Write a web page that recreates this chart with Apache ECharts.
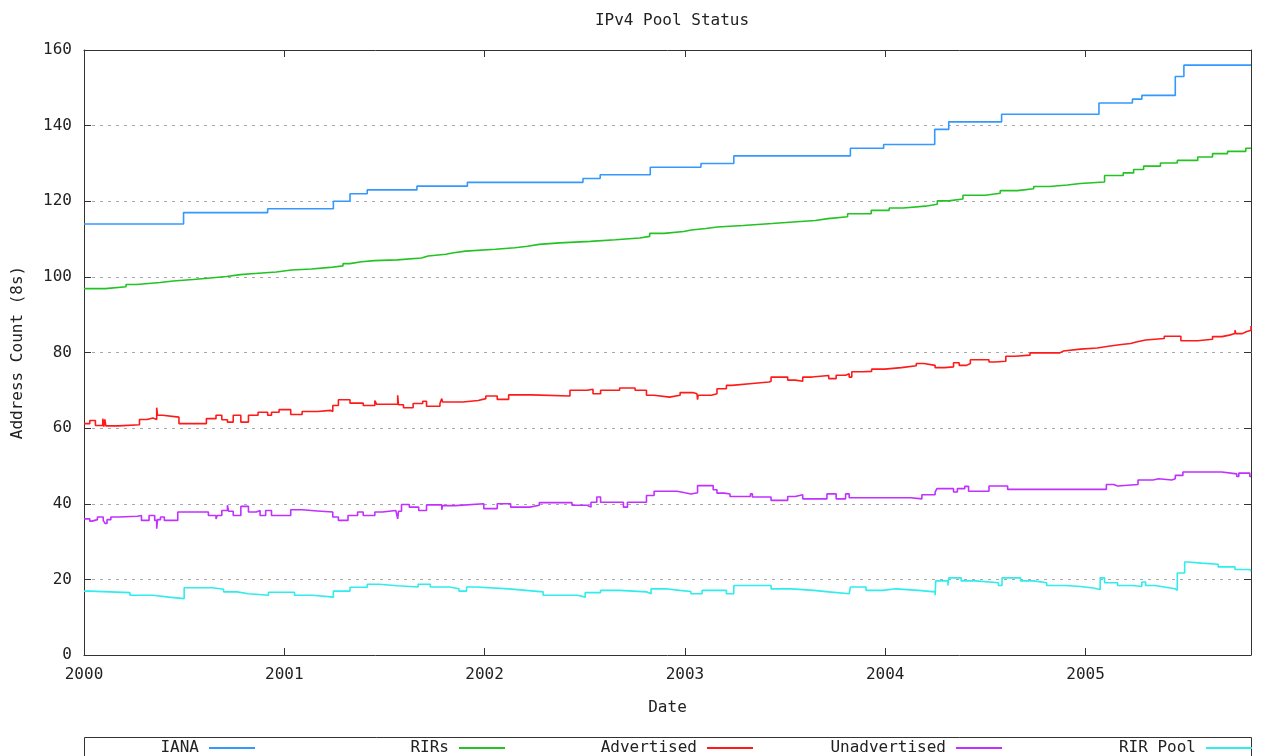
<!DOCTYPE html>
<html>
<head>
<meta charset="utf-8">
<script src="https://cdn.jsdelivr.net/npm/echarts@6/dist/echarts.min.js"></script>
<style>
html,body{margin:0;padding:0;background:#fff;}
#chart{width:1264px;height:756px;}
</style>
</head>
<body>
<div id="chart"></div>
<script>
// ---- data (decimal year, address count in /8s) ----
const xMin = 2000;
const xMax = 2005.826;
const yTicks = [0, 20, 40, 60, 80, 100, 120, 140, 160];
const seriesNames = ['IANA', 'RIRs', 'Advertised', 'Unadvertised', 'RIR Pool'];

const ianaData = [[2000.000,114],[2000.497,117],[2000.917,118],[2001.245,120],[2001.328,122],[2001.414,123],[2001.662,124],[2001.914,125],[2002.491,126],[2002.577,127],[2002.827,129],[2003.080,130],[2003.244,132],[2003.826,134],[2003.992,135],[2004.247,139],[2004.317,141],[2004.581,143],[2005.067,146],[2005.234,147],[2005.281,148],[2005.448,153],[2005.491,156],[2005.826,156]];

const rirsData = [[2000.000,96.9],[2000.106,97.4],[2000.210,98.0],[2000.263,98.5],[2000.380,98.9],[2000.445,99.3],[2000.545,99.7],[2000.630,100.1],[2000.712,100.6],[2000.780,100.9],[2000.853,101.3],[2000.960,101.8],[2001.036,102.1],[2001.136,102.5],[2001.228,102.9],[2001.293,103.5],[2001.327,104.0],[2001.386,104.3],[2001.450,104.5],[2001.563,105.0],[2001.685,105.5],[2001.718,106.0],[2001.806,106.4],[2001.846,106.8],[2001.905,107.3],[2002.054,107.7],[2002.151,108.1],[2002.214,108.6],[2002.272,109.0],[2002.375,109.4],[2002.528,109.8],[2002.653,110.3],[2002.774,110.7],[2002.824,111.5],[2002.896,112.0],[2002.994,112.4],[2003.032,112.8],[2003.104,113.2],[2003.162,113.6],[2003.290,114.1],[2003.435,114.5],[2003.540,114.9],[2003.651,115.4],[2003.714,115.9],[2003.812,116.7],[2003.930,117.6],[2004.020,118.2],[2004.090,118.7],[2004.200,119.2],[2004.260,120.1],[2004.315,120.6],[2004.388,121.6],[2004.500,122.1],[2004.574,122.8],[2004.660,123.3],[2004.741,123.9],[2004.820,124.3],[2004.909,124.7],[2004.974,125.1],[2005.095,126.8],[2005.188,127.5],[2005.240,128.4],[2005.290,129.3],[2005.374,130.1],[2005.458,130.8],[2005.560,131.7],[2005.634,132.6],[2005.709,133.2],[2005.800,134.0],[2005.826,134.1]];

const advertisedData = [[2000.000,61.2],[2000.029,62.0],[2000.057,60.7],[2000.094,62.5],[2000.099,60.4],[2000.104,62.3],[2000.109,60.6],[2000.172,60.9],[2000.277,62.3],[2000.315,62.7],[2000.344,62.3],[2000.363,65.4],[2000.367,63.4],[2000.392,62.9],[2000.474,61.2],[2000.611,62.5],[2000.659,63.4],[2000.688,62.2],[2000.716,61.6],[2000.745,63.4],[2000.783,61.6],[2000.821,63.4],[2000.869,64.2],[2000.917,63.4],[2000.936,64.2],[2000.974,64.9],[2001.032,63.6],[2001.089,64.4],[2001.165,64.7],[2001.232,64.4],[2001.242,66.0],[2001.270,67.5],[2001.328,66.6],[2001.394,66.0],[2001.452,67.3],[2001.461,66.3],[2001.566,68.7],[2001.570,66.2],[2001.595,65.4],[2001.643,66.5],[2001.691,67.1],[2001.710,65.8],[2001.777,66.5],[2001.786,67.8],[2001.790,66.9],[2001.891,67.3],[2001.968,67.8],[2002.006,68.5],[2002.063,67.6],[2002.120,68.8],[2002.235,68.5],[2002.426,70.0],[2002.512,70.3],[2002.541,69.1],[2002.579,70.0],[2002.674,70.6],[2002.751,70.0],[2002.808,68.7],[2002.846,68.2],[2002.923,68.7],[2002.976,69.4],[2003.040,69.1],[2003.060,68.7],[2003.063,67.5],[2003.066,68.7],[2003.132,69.1],[2003.160,70.4],[2003.207,71.3],[2003.234,71.8],[2003.337,72.2],[2003.420,72.4],[2003.430,73.5],[2003.513,72.7],[2003.551,72.4],[2003.588,73.5],[2003.634,73.9],[2003.718,73.1],[2003.755,74.0],[2003.802,74.4],[2003.820,73.5],[2003.833,74.9],[2003.886,75.0],[2003.932,75.6],[2003.997,76.0],[2004.081,76.5],[2004.155,77.1],[2004.193,76.6],[2004.249,76.0],[2004.295,76.2],[2004.341,77.3],[2004.369,76.6],[2004.406,77.1],[2004.425,78.1],[2004.518,77.5],[2004.546,77.7],[2004.602,79.0],[2004.648,79.3],[2004.723,79.9],[2004.872,80.4],[2004.890,80.9],[2004.974,81.2],[2005.058,81.7],[2005.123,82.1],[2005.179,82.4],[2005.225,82.8],[2005.253,82.4],[2005.262,83.3],[2005.300,83.5],[2005.346,83.7],[2005.393,84.3],[2005.476,83.1],[2005.560,83.5],[2005.634,84.2],[2005.681,84.6],[2005.718,85.0],[2005.746,85.9],[2005.750,85.0],[2005.783,85.5],[2005.802,85.9],[2005.826,87.0]];

const unadvertisedData = [[2000.000,36.0],[2000.029,35.4],[2000.040,34.9],[2000.045,35.8],[2000.067,36.5],[2000.096,35.6],[2000.105,34.8],[2000.115,35.8],[2000.134,36.5],[2000.172,36.7],[2000.267,36.9],[2000.287,35.6],[2000.325,36.9],[2000.353,35.6],[2000.363,33.4],[2000.367,35.8],[2000.382,36.5],[2000.401,35.6],[2000.468,37.8],[2000.621,36.9],[2000.659,36.0],[2000.665,36.9],[2000.688,38.2],[2000.716,39.6],[2000.722,38.0],[2000.745,36.9],[2000.783,39.3],[2000.821,37.8],[2000.860,38.2],[2000.879,36.9],[2000.907,38.2],[2000.936,36.9],[2001.032,38.4],[2001.089,38.1],[2001.165,37.8],[2001.242,36.5],[2001.270,35.6],[2001.318,36.9],[2001.366,37.8],[2001.394,36.9],[2001.452,37.8],[2001.490,38.2],[2001.557,38.1],[2001.566,36.0],[2001.570,38.0],[2001.585,39.8],[2001.624,39.1],[2001.671,38.2],[2001.710,39.7],[2001.786,38.4],[2001.790,39.5],[2001.853,40.0],[2001.996,38.7],[2002.063,40.0],[2002.130,39.1],[2002.225,39.6],[2002.273,40.3],[2002.436,39.6],[2002.512,39.1],[2002.531,40.4],[2002.560,41.8],[2002.579,40.4],[2002.693,39.1],[2002.713,40.4],[2002.808,42.2],[2002.846,43.3],[2002.961,42.9],[2003.000,42.6],[2003.030,42.9],[2003.063,44.8],[2003.141,43.7],[2003.160,42.8],[2003.197,42.6],[2003.225,41.9],[2003.327,42.6],[2003.337,41.8],[2003.430,40.9],[2003.513,41.9],[2003.551,42.4],[2003.588,41.3],[2003.709,42.6],[2003.755,41.3],[2003.802,42.6],[2003.820,41.6],[2004.127,41.3],[2004.183,42.4],[2004.249,43.1],[2004.258,44.0],[2004.341,43.1],[2004.360,44.0],[2004.397,44.6],[2004.416,43.3],[2004.518,44.7],[2004.611,43.8],[2005.104,45.1],[2005.141,44.7],[2005.160,45.1],[2005.262,46.3],[2005.337,46.6],[2005.365,46.3],[2005.430,46.6],[2005.448,47.5],[2005.486,48.4],[2005.681,47.9],[2005.755,47.2],[2005.765,48.1],[2005.820,47.2],[2005.826,47.2]];

const rirPoolData = [[2000.000,16.9],[2000.029,16.5],[2000.229,15.8],[2000.344,15.3],[2000.424,14.9],[2000.500,17.8],[2000.640,17.4],[2000.697,16.7],[2000.764,16.2],[2000.821,15.8],[2000.921,16.6],[2001.051,15.8],[2001.142,15.3],[2001.245,16.9],[2001.328,17.9],[2001.414,18.7],[2001.471,18.3],[2001.566,18.0],[2001.668,18.7],[2001.729,18.0],[2001.824,17.5],[2001.872,16.9],[2001.910,18.0],[2001.958,17.5],[2002.120,17.1],[2002.206,16.7],[2002.292,15.8],[2002.464,15.3],[2002.502,16.5],[2002.579,17.1],[2002.674,16.7],[2002.808,16.2],[2002.831,17.5],[2002.904,17.1],[2002.974,16.8],[2003.030,16.2],[2003.086,17.1],[2003.207,16.2],[2003.244,18.4],[2003.430,17.5],[2003.532,17.1],[2003.644,16.7],[2003.718,16.2],[2003.820,15.8],[2003.826,18.0],[2003.904,17.1],[2003.988,17.5],[2004.053,17.1],[2004.165,16.7],[2004.249,15.8],[2004.252,19.6],[2004.313,18.4],[2004.317,20.4],[2004.379,19.6],[2004.453,19.1],[2004.565,18.4],[2004.583,20.4],[2004.676,19.6],[2004.741,19.1],[2004.806,18.4],[2004.900,18.1],[2004.974,17.7],[2005.039,17.3],[2005.073,20.4],[2005.095,19.1],[2005.160,18.4],[2005.234,18.1],[2005.281,19.3],[2005.300,18.4],[2005.346,18.0],[2005.393,17.5],[2005.448,17.1],[2005.458,21.7],[2005.495,24.6],[2005.513,24.3],[2005.579,24.0],[2005.662,23.3],[2005.746,22.6],[2005.820,22.2],[2005.826,22.2]];

const seriesData = [ianaData, rirsData, advertisedData, unadvertisedData, rirPoolData];
const seriesColors = ['#3399ff', '#22c322', '#ff1a1a', '#c030ff', '#30ecec'];

// ---- chart ----
const FONT = 'DejaVu Sans Mono';
const TXT = '#222';
const AXC = '#333';
const chart = echarts.init(document.getElementById('chart'), null, {renderer: 'canvas'});

const xAxisCommon = {
  type: 'value', min: xMin, max: xMax, interval: 1,
  axisLine: {show: true, onZero: false, lineStyle: {color: AXC, width: 1}},
  axisTick: {show: true, inside: true, length: 7, lineStyle: {color: AXC}},
  splitLine: {show: false}
};
const yAxisCommon = {
  type: 'value', min: yTicks[0], max: yTicks[yTicks.length - 1], interval: yTicks[1] - yTicks[0],
  axisLine: {show: true, lineStyle: {color: AXC, width: 1}},
  axisTick: {show: true, inside: true, length: 7, lineStyle: {color: AXC}}
};

const legendRightEdges = [1009, 759, 511, 262, 12];

chart.setOption({
  animation: false,
  backgroundColor: '#fff',
  textStyle: {fontFamily: FONT},
  title: {
    text: 'IPv4 Pool Status', left: 667, textAlign: 'center', top: 8,
    textStyle: {fontFamily: FONT, fontSize: 16, fontWeight: 'normal', color: TXT}
  },
  grid: {left: 84, right: 13, top: 50, bottom: 101, containLabel: false},
  xAxis: [
    Object.assign({}, xAxisCommon, {
      position: 'bottom', name: 'Date', nameLocation: 'middle', nameGap: 45,
      nameTextStyle: {fontFamily: FONT, fontSize: 16, color: TXT},
      axisLabel: {
        show: true, margin: 12, showMaxLabel: false,
        fontFamily: FONT, fontSize: 16, color: TXT,
        formatter: v => (Math.abs(v - Math.round(v)) < 1e-6 ? String(Math.round(v)) : '')
      }
    }),
    Object.assign({}, xAxisCommon, {position: 'top', axisLabel: {show: false}})
  ],
  yAxis: [
    Object.assign({}, yAxisCommon, {
      position: 'left', name: 'Address Count (8s)', nameLocation: 'middle', nameGap: 58,
      nameTextStyle: {fontFamily: FONT, fontSize: 16, color: TXT},
      axisLabel: {margin: 12, fontFamily: FONT, fontSize: 16, color: TXT},
      splitLine: {show: true, lineStyle: {color: '#a8a8a8', width: 1.2, type: [3, 5]}}
    }),
    Object.assign({}, yAxisCommon, {
      position: 'right', axisLabel: {show: false}, splitLine: {show: false}
    })
  ],
  legend: seriesNames.map((n, i) => ({
    data: [n], right: legendRightEdges[i], top: 740, padding: 0,
    align: 'right', icon: 'rect', itemWidth: 46, itemHeight: 2,
    selectedMode: false,
    textStyle: {fontFamily: FONT, fontSize: 16, color: TXT, padding: [0, 5, 0, 0]}
  })),
  graphic: [{
    type: 'rect', silent: true,
    shape: {x: 84.5, y: 737.5, width: 1167, height: 40},
    style: {fill: 'none', stroke: AXC, lineWidth: 1}
  }],
  series: seriesNames.map((n, i) => ({
    name: n, type: 'line', step: 'end', xAxisIndex: 0, yAxisIndex: 0,
    data: seriesData[i], showSymbol: false, symbol: 'none',
    color: seriesColors[i],
    lineStyle: {color: seriesColors[i], width: 1.6},
    itemStyle: {color: seriesColors[i]},
    z: 3 + i
  }))
});
</script>
</body>
</html>
